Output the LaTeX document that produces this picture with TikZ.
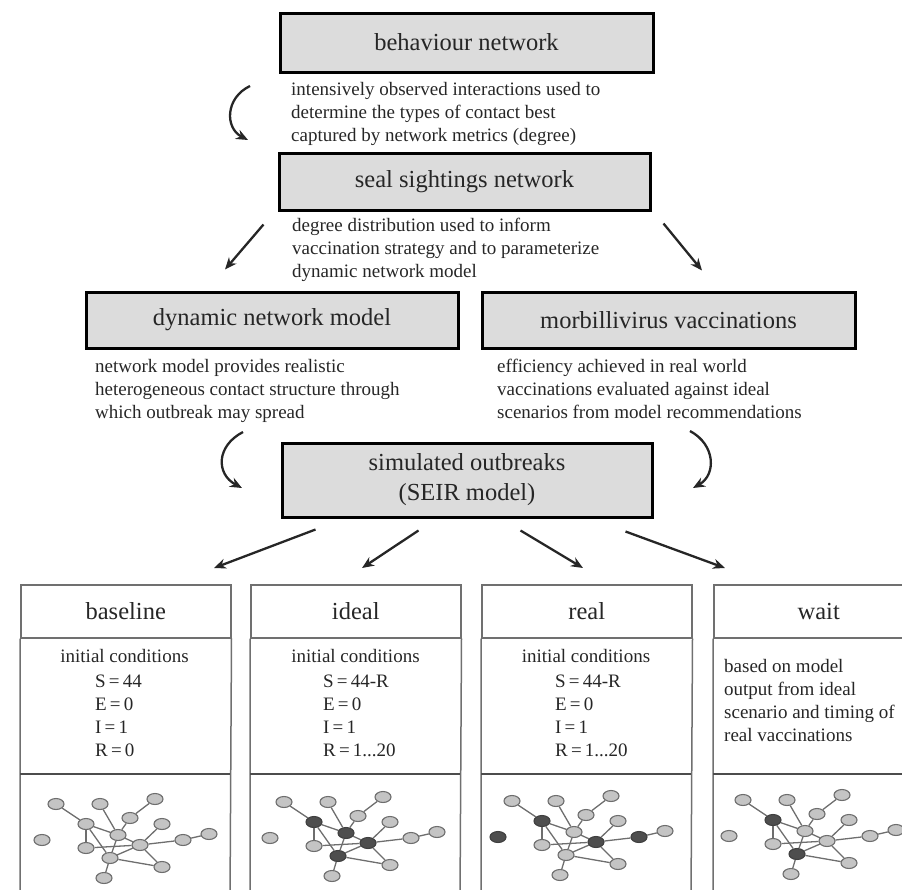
\documentclass[tikz,border=0pt]{standalone}
\usepackage{fontspec}
\setmainfont{Liberation Serif}
\usetikzlibrary{shapes.geometric,arrows.meta,calc}

\definecolor{boxfill}{HTML}{DCDCDC}
\definecolor{txt}{HTML}{262626}
\definecolor{tline}{HTML}{707070}
\definecolor{nlight}{HTML}{C4C4C4}
\definecolor{nedge}{HTML}{6E6E6E}
\definecolor{ndark}{HTML}{4E4E4E}

\newcommand\bigfont{\fontsize{24.5}{30}\selectfont}
\newcommand\smallfont{\fontsize{19}{23}\selectfont}

\tikzset{
 graybox/.style={draw=black, line width=3pt, fill=boxfill, inner sep=0pt, font=\bigfont, text=txt, align=center},
 note/.style={anchor=north west, inner sep=0pt, font=\smallfont, text=txt, align=left},
 flowarrow/.style={line width=2.3pt, draw=black!85, -{Stealth[length=12pt,width=10pt]}},
 titlecell/.style={draw=tline, line width=1.5pt, minimum width=210pt, minimum height=53pt, anchor=north west, inner sep=0pt, font=\bigfont, text=txt},
 boxline/.style={draw=tline, line width=1.5pt},
 divline/.style={draw=black!70, line width=2.2pt},
 netnode/.style={ellipse, line width=1.1pt, minimum width=16pt, minimum height=11pt, inner sep=0pt},
 netedge/.style={draw=nedge, line width=1.3pt},
 condtext/.style={font=\smallfont, text=txt, inner sep=0pt, anchor=base},
}

\newcommand\sealnet[4]{%
 \foreach \d in {#4}{\expandafter\gdef\csname sndark#1\d\endcsname{}}%
 \begin{scope}[shift={(#2,#3)}]
 \foreach \i/\x/\y in {1/36/804,2/80/804,3/135/799,4/66/824,5/110/818,6/142/824,7/22/840,8/98/835,9/120/845,10/163/840,11/189/834,12/66/848,13/90/858,14/142/867,15/84/878}{%
   \ifcsname sndark#1\i\endcsname\def\snfill{ndark}\def\sndraw{black!75}\else\def\snfill{nlight}\def\sndraw{nedge}\fi
   \node[netnode, fill=\snfill, draw=\sndraw] (#1\i) at (\x,\y) {};}
 \foreach \a/\b in {1/4,2/8,3/5,5/8,4/8,4/12,4/13,6/9,8/13,8/9,12/9,9/10,10/11,13/9,13/14,9/14,13/15}{\draw[netedge] (#1\a) -- (#1\b);}
 \end{scope}}

\begin{document}
\begin{tikzpicture}[x=1pt,y=-1pt]
\useasboundingbox (0,0) rectangle (902,889);
\clip (0,0) rectangle (902,889);

% gray boxes
\node[graybox, minimum width=373pt, minimum height=59pt] (beh) at (466.5,42.5) {behaviour network};
\node[graybox, minimum width=371pt, minimum height=57pt] (seal) at (464.5,181.5) {seal sightings network};
\node[graybox, minimum width=372pt, minimum height=56pt] (dyn) at (272,320) {dynamic network model};
\node[graybox, minimum width=373pt, minimum height=56pt] (morb) at (668.5,320) {morbillivirus vaccinations};
\node[graybox, minimum width=370pt, minimum height=74pt] (sim) at (467,480) {simulated outbreaks\\(SEIR model)};

% notes
\node[note] (n1) at (291,82) {intensively observed interactions used to\\determine the types of contact best\\captured by network metrics (degree)};
\node[note] (n2) at (292,218) {degree distribution used to inform\\vaccination strategy and to parameterize\\dynamic network model};
\node[note] (n3) at (95,359) {network model provides realistic\\heterogeneous contact structure through\\which outbreak may spread};
\node[note] (n4) at (497,359) {efficiency achieved in real world\\vaccinations evaluated against ideal\\scenarios from model recommendations};

% curved arrows
\coordinate (c1s) at (250,86); \coordinate (c1e) at (248,140);
\draw[flowarrow] (c1s) .. controls (225,98) and (225,128) .. (c1e);
\coordinate (c2s) at (243,432); \coordinate (c2e) at (242,488);
\draw[flowarrow] (c2s) .. controls (216,446) and (216,474) .. (c2e);
\coordinate (c3s) at (690,431); \coordinate (c3e) at (693,488);
\draw[flowarrow] (c3s) .. controls (716,445) and (716,475) .. (c3e);

% diagonal arrows from seal
\draw[flowarrow] ([xshift=-14pt,yshift=-13pt]seal.south west) -- ([xshift=-47pt,yshift=21pt]dyn.north);
\draw[flowarrow] ([xshift=12pt,yshift=-12pt]seal.south east) -- ([xshift=33.5pt,yshift=20pt]morb.north);

% bottom boxes
\node[titlecell] (t1) at (20,584) {baseline};
\node[titlecell] (t2) at (250,584) {ideal};
\node[titlecell] (t3) at (481,584) {real};
\node[titlecell] (t4) at (713,584) {wait};
\foreach \b/\L in {t1/20,t2/250,t3/481,t4/713}{
  \draw[boxline] (\b.south west) -- (\L,900) (\b.south east) -- (\L+210,900);
  \draw[divline] (\L,774) -- (\L+210,774);
}

% arrows from simulated outbreaks
\draw[flowarrow] ([xshift=35pt,yshift=-11pt]sim.south west) -- ([xshift=194pt,yshift=16pt]t1.north west);
\draw[flowarrow] ([xshift=138pt,yshift=-12pt]sim.south west) -- ([xshift=112pt,yshift=16pt]t2.north west);
\draw[flowarrow] ([xshift=240pt,yshift=-12pt]sim.south west) -- ([xshift=102pt,yshift=16pt]t3.north west);
\draw[flowarrow] ([xshift=345pt,yshift=-13pt]sim.south west) -- ([xshift=12pt,yshift=16pt]t4.north west);

% conditions
\node[condtext] (ic1) at (124.5,662) {initial conditions};
\node[condtext] (ic2) at (355.5,662) {initial conditions};
\node[condtext] (ic3) at (586,662) {initial conditions};
\node[note] (v1) at (95,675) {S\,=\,44\\E\,=\,0\\I\,=\,1\\R\,=\,0};
\node[note] (v2) at (323,675) {S\,=\,44-R\\E\,=\,0\\I\,=\,1\\R\,=\,1...20};
\node[note] (v3) at (555,675) {S\,=\,44-R\\E\,=\,0\\I\,=\,1\\R\,=\,1...20};
\node[note] (w4) at (724,659) {based on model\\output from ideal\\scenario and timing of\\real vaccinations};

% networks
\sealnet{na}{20}{0}{}
\sealnet{nb}{248}{-2}{4,8,9,13}
\sealnet{nc}{476}{-3}{4,7,9,10}
\sealnet{nd}{707}{-4}{4,13}
\end{tikzpicture}
\end{document}
